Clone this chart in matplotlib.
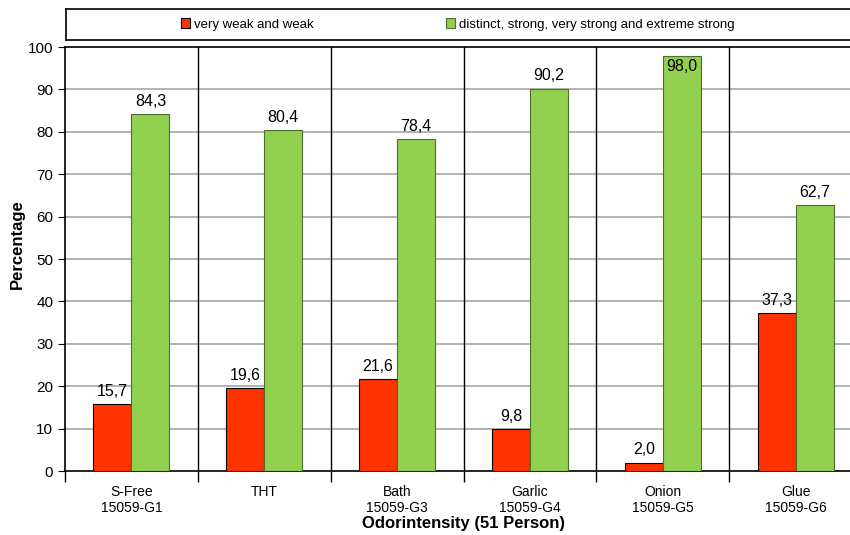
import numpy as np
import matplotlib.pyplot as plt

plt.rcParams['font.family'] = ['Liberation Sans', 'DejaVu Sans']

# Odour intensity ratings per sample
categories = ['S-Free\n15059-G1', 'THT', 'Bath\n15059-G3', 'Garlic\n15059-G4',
              'Onion\n15059-G5', 'Glue\n15059-G6']
weak = [15.7, 19.6, 21.6, 9.8, 2.0, 37.3]
strong = [84.3, 80.4, 78.4, 90.2, 98.0, 62.7]
series_names = ['very weak and weak', 'distinct, strong, very strong and extreme strong']

fig = plt.figure(figsize=(8.5, 5.35), dpi=100)
ax = fig.add_axes([0.0765, 0.1196, 0.9376, 0.7925])

x = np.arange(len(categories))
w = 0.286
b1 = ax.bar(x - w / 2, weak, w, color='#FF3300', edgecolor='black', linewidth=0.8,
            label=series_names[0], zorder=3)
b2 = ax.bar(x + w / 2, strong, w, color='#92D050', edgecolor='#4E6E2E', linewidth=0.8,
            label=series_names[1], zorder=3)

def fmt(v):
    return f'{v:.1f}'.replace('.', ',')

for bars, vals in ((b1, weak), (b2, strong)):
    for r, v in zip(bars, vals):
        cx = r.get_x() + r.get_width() / 2
        if v > 95:
            # no room above the bar: put the label just inside its top
            ax.text(cx, v - 0.8, fmt(v), ha='center', va='top', fontsize=11.5, zorder=4)
        else:
            ax.text(cx, v + 1.2, fmt(v), ha='center', va='bottom', fontsize=11.5, zorder=4)

ax.set_xlim(-0.5, len(categories) - 0.5)
ax.set_ylim(0, 100)
ax.set_yticks(np.arange(0, 101, 10))
ax.tick_params(axis='y', labelsize=11, length=5, direction='out')

# category labels centred, tick marks on the boundaries
ax.set_xticks(x)
ax.set_xticklabels(categories, fontsize=10)
ax.tick_params(axis='x', length=0, pad=10)
ax.set_xticks(np.arange(-0.5, len(categories)), minor=True)
ax.tick_params(axis='x', which='minor', length=8, width=1, direction='out')

for yv in range(10, 100, 10):
    ax.axhline(yv, color='#A6A6A6', linewidth=1.2, zorder=1)
for xv in np.arange(0.5, len(categories) - 0.5):
    ax.axvline(xv, color='black', linewidth=1, zorder=2)

for s in ax.spines.values():
    s.set_linewidth(1.2)

ax.set_ylabel('Percentage', fontsize=12, fontweight='bold')
ax.yaxis.set_label_coords(-0.05, 0.535)
ax.set_xlabel('Odorintensity (51 Person)', fontsize=12, fontweight='bold', labelpad=1)

# framed legend strip above the plot
lax = fig.add_axes([0.0776, 0.925, 0.95, 0.058])
lax.set_xticks([])
lax.set_yticks([])
for s in lax.spines.values():
    s.set_linewidth(1.2)
lax.legend(handles=[b1, b2], loc='center', bbox_to_anchor=(0.485, 0.5), ncol=2,
           frameon=False, fontsize=9.5, handlelength=0.7, handleheight=0.7,
           handletextpad=0.3, columnspacing=10)

fig.savefig('out.png', dpi=100)
